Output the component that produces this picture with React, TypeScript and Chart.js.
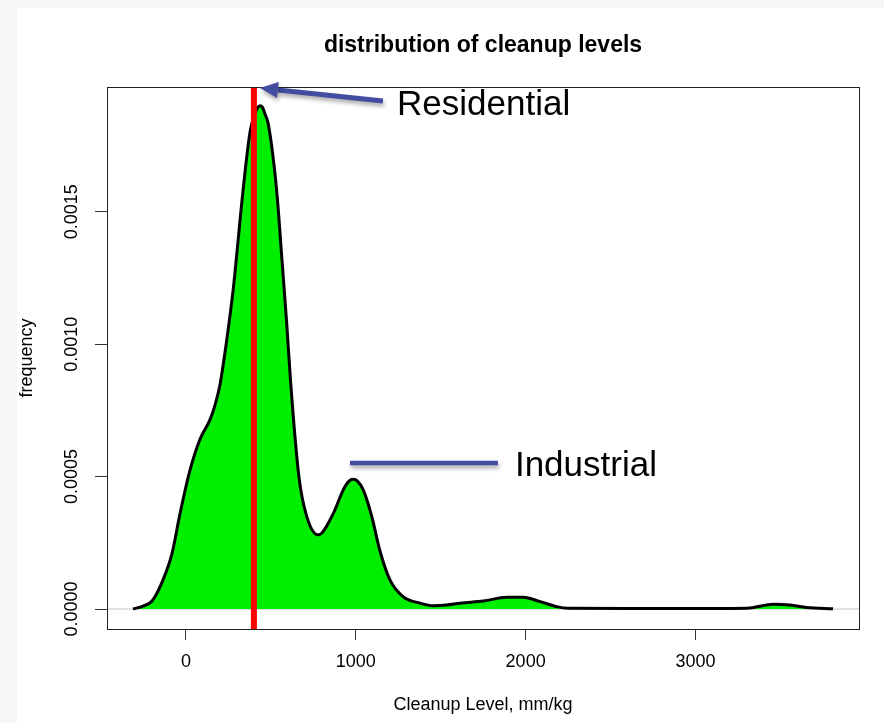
import React, { useEffect, useRef } from 'react';
import { Chart, registerables } from 'chart.js';

Chart.register(...registerables);

// ---- data ----
const densityX = [
  -312, -253, -200, -135, -82, -35, 24, 82, 141, 171, 200, 236, 277, 336, 377, 406, 422,
  436, 450, 465, 485, 534, 564, 593, 617, 665, 711, 779, 867, 926, 960, 985, 1010, 1044,
  1094, 1142, 1201, 1280, 1378, 1456, 1535, 1614, 1751, 1889, 1986, 2085, 2183, 2250,
  2600, 3000, 3302, 3459, 3557, 3655, 3810,
];
const densityY = [
  0, 0.000011, 0.00003, 0.00011, 0.00021, 0.00036, 0.000525, 0.00064, 0.000714, 0.00077,
  0.000846, 0.000997, 0.0012, 0.00158, 0.0018, 0.00187, 0.001893, 0.0019, 0.001895, 0.00187,
  0.00183, 0.00158, 0.00133, 0.00108, 0.00085, 0.0005, 0.00035, 0.00028, 0.00036, 0.00045,
  0.000483, 0.00049, 0.000483, 0.00045, 0.00035, 0.00022, 0.00011, 0.000046, 0.000022,
  0.000012, 0.000015, 0.000022, 0.00003, 0.000044, 0.000044, 0.000028, 0.000009, 0.000003,
  0.000002, 0.000002, 0.000003, 0.000018, 0.000015, 0.000006, 0.000001,
];
const xTicks = [0, 1000, 2000, 3000];
const yTicks = [0, 0.0005, 0.001, 0.0015];
const yTickLabels = ['0.0000', '0.0005', '0.0010', '0.0015'];
const xRange = [-465, 3963];
const yRange = [-0.0000755, 0.001971];
const residentialLevel = 400;

const chartTitle = 'distribution of cleanup levels';
const xTitle = 'Cleanup Level, mm/kg';
const yTitle = 'frequency';

const annotations = [
  { label: 'Residential', tip: [436, 0.001967], tail: [1160, 0.001918], text: [1243, 0.001865], head: true },
  { label: 'Industrial', tip: [966, 0.000551], tail: [1837, 0.000551], text: [1937, 0.000502], head: false },
];

const FONT = "'Liberation Sans', Arial, Helvetica, sans-serif";
const ARROW_COLOR = '#444ca0';

const decorPlugin = {
  id: 'decor',
  beforeDraw(chart: any) {
    const { ctx, width, height } = chart;
    ctx.save();
    ctx.fillStyle = '#f6f6f6';
    ctx.fillRect(0, 0, width, height);
    ctx.fillStyle = '#ffffff';
    ctx.fillRect(17, 8, width - 17, height - 8);
    ctx.restore();
  },
  afterDraw(chart: any) {
    const { ctx, chartArea } = chart;
    const xs = chart.scales.x;
    const ys = chart.scales.y;
    ctx.save();
    // frame
    ctx.strokeStyle = '#222';
    ctx.lineWidth = 1;
    ctx.strokeRect(
      Math.round(chartArea.left) + 0.5,
      Math.round(chartArea.top) + 0.5,
      Math.round(chartArea.right - chartArea.left),
      Math.round(chartArea.bottom - chartArea.top)
    );
    // y tick labels (rotated as in R)
    ctx.fillStyle = '#000';
    ctx.font = `18px ${FONT}`;
    ctx.textAlign = 'center';
    ctx.textBaseline = 'middle';
    yTicks.forEach((v, i) => {
      const py = ys.getPixelForValue(v);
      ctx.save();
      ctx.translate(72, py);
      ctx.rotate(-Math.PI / 2);
      ctx.fillText(yTickLabels[i], 0, 0);
      ctx.restore();
    });
    // title
    ctx.font = `bold 23px ${FONT}`;
    ctx.textBaseline = 'alphabetic';
    ctx.fillText(chartTitle, (chartArea.left + chartArea.right) / 2, 52);

    // annotations
    annotations.forEach((a) => {
      const tx = xs.getPixelForValue(a.tip[0]);
      const ty = ys.getPixelForValue(a.tip[1]);
      const sx = xs.getPixelForValue(a.tail[0]);
      const sy = ys.getPixelForValue(a.tail[1]);
      const dx = tx - sx;
      const dy = ty - sy;
      const len = Math.hypot(dx, dy);
      const ux = dx / len;
      const uy = dy / len;
      ctx.save();
      ctx.shadowColor = 'rgba(0,0,0,0.35)';
      ctx.shadowBlur = 4;
      ctx.shadowOffsetX = 1;
      ctx.shadowOffsetY = 3;
      ctx.strokeStyle = ARROW_COLOR;
      ctx.fillStyle = ARROW_COLOR;
      ctx.lineWidth = a.head ? 5 : 4.5;
      const headLen = a.head ? 18 : 0;
      ctx.beginPath();
      ctx.moveTo(sx, sy);
      ctx.lineTo(tx - ux * headLen, ty - uy * headLen);
      ctx.stroke();
      if (a.head) {
        const bx = tx - ux * headLen;
        const by = ty - uy * headLen;
        const hw = 8;
        ctx.beginPath();
        ctx.moveTo(tx, ty);
        ctx.lineTo(bx - uy * hw, by + ux * hw);
        ctx.lineTo(bx + uy * hw, by - ux * hw);
        ctx.closePath();
        ctx.fill();
      }
      ctx.restore();
      ctx.fillStyle = '#000';
      ctx.font = `35px ${FONT}`;
      ctx.textAlign = 'left';
      ctx.textBaseline = 'alphabetic';
      ctx.fillText(a.label, xs.getPixelForValue(a.text[0]), ys.getPixelForValue(a.text[1]));
    });
    ctx.restore();
  },
};

export default function App() {
  const ref = useRef<HTMLCanvasElement | null>(null);
  useEffect(() => {
    if (!ref.current) return;
    const densityData = densityX.map((x, i) => ({ x, y: densityY[i] }));
    const chart = new Chart(ref.current, {
      type: 'line',
      data: {
        datasets: [
          {
            label: 'zero',
            data: [
              { x: xRange[0], y: 0 },
              { x: xRange[1], y: 0 },
            ],
            borderColor: '#c4c4c4',
            borderWidth: 1,
            pointRadius: 0,
            fill: false,
            order: 3,
          },
          {
            label: 'density',
            data: densityData,
            borderColor: '#000000',
            borderWidth: 3,
            backgroundColor: '#00ee00',
            fill: 'origin',
            pointRadius: 0,
            cubicInterpolationMode: 'monotone',
            order: 2,
          },
          {
            label: 'residential',
            data: [
              { x: residentialLevel, y: yRange[0] },
              { x: residentialLevel, y: yRange[1] },
            ],
            borderColor: '#ff0000',
            borderWidth: 6,
            pointRadius: 0,
            fill: false,
            order: 1,
          },
        ],
      },
      options: {
        animation: false,
        responsive: false,
        maintainAspectRatio: false,
        devicePixelRatio: 1,
        layout: { padding: { top: 87, right: 25, left: 0, bottom: 0 } },
        plugins: {
          legend: { display: false },
          tooltip: { enabled: false },
          title: { display: false },
        },
        scales: {
          x: {
            type: 'linear',
            min: xRange[0],
            max: xRange[1],
            afterBuildTicks: (s: any) => {
              s.ticks = xTicks.map((v) => ({ value: v }));
            },
            afterFit: (s: any) => {
              s.height = 94;
            },
            ticks: {
              font: { family: FONT, size: 18 },
              color: '#000',
              padding: 11,
              maxRotation: 0,
              autoSkip: false,
              callback: (v: any) => String(v),
            },
            grid: { drawOnChartArea: false, drawTicks: true, tickLength: 11, color: '#333' },
            border: { display: false },
            title: {
              display: true,
              text: xTitle,
              color: '#000',
              font: { family: FONT, size: 18 },
              padding: { top: 0, bottom: 7 },
            },
          },
          y: {
            type: 'linear',
            min: yRange[0],
            max: yRange[1],
            afterBuildTicks: (s: any) => {
              s.ticks = yTicks.map((v) => ({ value: v }));
            },
            afterFit: (s: any) => {
              s.width = 107;
            },
            ticks: { display: false },
            grid: { drawOnChartArea: false, drawTicks: true, tickLength: 12, color: '#333' },
            border: { display: false },
            title: {
              display: true,
              text: yTitle,
              color: '#000',
              font: { family: FONT, size: 18 },
              padding: { top: 16, bottom: 0 },
            },
          },
        },
      },
      plugins: [decorPlugin],
    } as any);
    return () => chart.destroy();
  }, []);
  return (
    <canvas
      ref={ref}
      width={884}
      height={723}
      style={{ position: 'absolute', left: 0, top: 0, width: 884, height: 723 }}
    />
  );
}
